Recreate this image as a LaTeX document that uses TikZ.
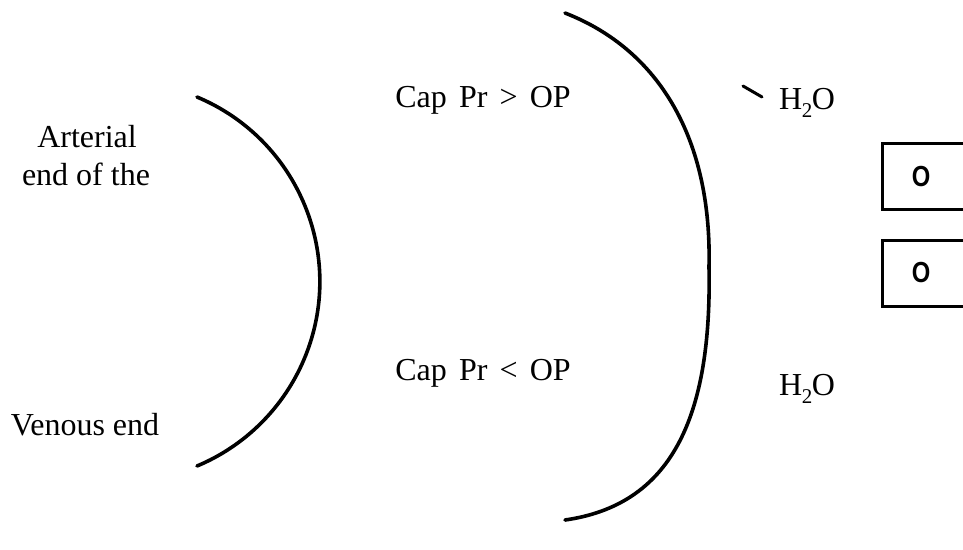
\documentclass[tikz,border=0pt]{standalone}
\usepackage{fontspec}
\setmainfont{Liberation Serif}
\newfontfamily\boxfont{Liberation Sans}
\newcommand{\lowtwo}{\kern-0.5pt\raisebox{-0.28em}{\fontsize{21}{21}\selectfont 2}\kern-0.5pt}
\newcommand{\gp}{\hspace{0.38em}}
\begin{document}
\begin{tikzpicture}[x=1pt,y=-1pt,
  lbl/.style={inner sep=0pt, anchor=base, font=\fontsize{32}{38}\selectfont},
  boxlbl/.style={inner sep=0pt, font=\boxfont\bfseries\fontsize{29}{32}\selectfont},
  wall/.style={line width=3.6pt, line cap=round},
  cell/.style={line width=3pt}]
\useasboundingbox (0,0) rectangle (963,549);
% left capillary wall
\draw[wall] (197,97) arc[start angle=-67.3, end angle=67.3, radius=200];
% right capillary wall
\coordinate (rs) at (565,13);
\coordinate (rm) at (709,267);
\coordinate (re) at (565,520);
\draw[wall] (rs) .. controls (660,50) and (712,140) .. (rm)
                .. controls (712,420) and (670,505) .. (re);
% texts
\node[lbl] (art) at (87,147) {Arterial};
\node[lbl] (artb) at (86,185) {end of the};
\node[lbl] (ven) at (85,435) {Venous end};
\node[lbl] (capgt) at (483,107) {Cap\gp Pr\gp >\gp OP};
\node[lbl] (caplt) at (483,380) {Cap\gp Pr\gp <\gp OP};
\node[lbl] (wtop) at (807,109) {H\lowtwo O};
\node[lbl] (wbot) at (807,395) {H\lowtwo O};
\coordinate (ta) at (743,86);
\coordinate (tb) at (762,97);
\draw[line width=3pt, line cap=round] (ta) -- (tb);
% boxes
\draw[cell] (963,143) -- (882,143) -- (882,209) -- (963,209);
\draw[cell] (963,240) -- (882,240) -- (882,306) -- (963,306);
\node[boxlbl] (o1) at (921,177) {\scalebox{0.82}[1]{O}};
\node[boxlbl] (o2) at (921,273) {\scalebox{0.82}[1]{O}};
\end{tikzpicture}
\end{document}
